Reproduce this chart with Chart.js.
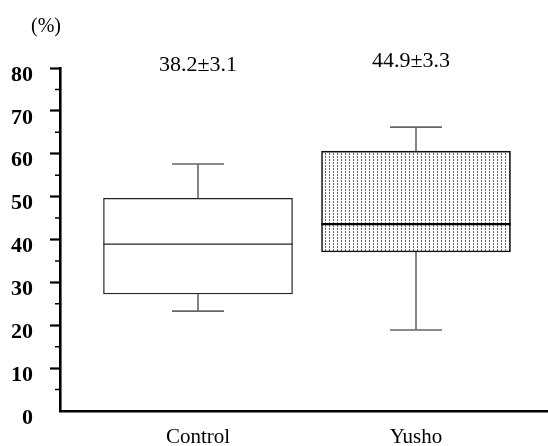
<!DOCTYPE html>
<html><head><meta charset="utf-8">
<script src="https://cdn.jsdelivr.net/npm/chart.js@4.4.0/dist/chart.umd.min.js"></script>
<style>html,body{margin:0;padding:0;background:#fff;}#wrap{width:548px;height:446px;}</style>
</head><body><div id="wrap"><canvas id="c" width="548" height="446"></canvas></div>
<script>
// ---- data ----
const categories = ['Control', 'Yusho'];
const whiskerLow = [23.3, 18.9];
const quartile1 = [27.3, 37.1];
const medians = [38.9, 43.6];
const quartile3 = [49.6, 60.6];
const whiskerHigh = [57.6, 66.2];
const meanLabels = ['38.2\u00b13.1', '44.9\u00b13.3'];
const majorTickValues = [0, 10, 20, 30, 40, 50, 60, 70, 80];
const minorTickValues = [5, 15, 25, 35, 45, 55, 65, 75];
const unitLabel = '(%)';

// ---- stipple pattern for Yusho box ----
function makePattern() {
  const p = document.createElement('canvas');
  p.width = 4; p.height = 3;
  const g = p.getContext('2d');
  g.fillStyle = '#fff'; g.fillRect(0, 0, 4, 3);
  g.fillStyle = '#6a6a6a'; g.fillRect(1, 0, 1, 2);
  return document.getElementById('c').getContext('2d').createPattern(p, 'repeat');
}

const SERIF = '"Liberation Serif", "Times New Roman", serif';

const boxPlugin = {
  id: 'boxExtras',
  afterDatasetsDraw(chart) {
    const ctx = chart.ctx;
    const xs = chart.scales.x, ys = chart.scales.y;
    const meta = chart.getDatasetMeta(0);
    const area = chart.chartArea;
    ctx.save();
    // whiskers and caps
    categories.forEach((c, i) => {
      const cx = xs.getPixelForValue(i);
      ctx.strokeStyle = '#666';
      ctx.lineWidth = 1.6;
      ctx.beginPath();
      ctx.moveTo(cx, ys.getPixelForValue(whiskerHigh[i]));
      ctx.lineTo(cx, ys.getPixelForValue(quartile3[i]));
      ctx.moveTo(cx, ys.getPixelForValue(quartile1[i]));
      ctx.lineTo(cx, ys.getPixelForValue(whiskerLow[i]));
      const half = 26;
      ctx.moveTo(cx - half, ys.getPixelForValue(whiskerHigh[i]));
      ctx.lineTo(cx + half, ys.getPixelForValue(whiskerHigh[i]));
      ctx.moveTo(cx - half, ys.getPixelForValue(whiskerLow[i]));
      ctx.lineTo(cx + half, ys.getPixelForValue(whiskerLow[i]));
      ctx.stroke();
      // median
      const el = meta.data[i];
      ctx.strokeStyle = i === 0 ? '#222' : '#000';
      ctx.lineWidth = i === 0 ? 1.3 : 2.3;
      ctx.beginPath();
      const my = ys.getPixelForValue(medians[i]);
      ctx.moveTo(el.x - el.width / 2, my);
      ctx.lineTo(el.x + el.width / 2, my);
      ctx.stroke();
    });
    // minor ticks on y axis
    ctx.strokeStyle = '#000';
    ctx.lineWidth = 1.6;
    ctx.beginPath();
    minorTickValues.forEach(v => {
      const y = ys.getPixelForValue(v);
      ctx.moveTo(area.left - 5, y);
      ctx.lineTo(area.left, y);
    });
    ctx.stroke();
    // mean ± SE labels
    ctx.fillStyle = '#000';
    ctx.font = '22px ' + SERIF;
    ctx.textAlign = 'center';
    ctx.textBaseline = 'alphabetic';
    const dy = [3, -1];
    const dx = [0, -5];
    meanLabels.forEach((t, i) => {
      ctx.fillText(t, xs.getPixelForValue(i) + dx[i], area.top + dy[i]);
    });
    // unit label
    ctx.font = '20px ' + SERIF;
    ctx.fillText(unitLabel, area.left - 14, area.top - 36);
    ctx.restore();
  }
};

new Chart(document.getElementById('c'), {
  type: 'bar',
  data: {
    datasets: [{
      data: categories.map((c, i) => ({ x: i, y: [quartile1[i], quartile3[i]] })),
      backgroundColor: ['#ffffff', makePattern()],
      borderColor: ['#222', '#111'],
      borderWidth: [1.3, 1.6],
      borderSkipped: false,
      barThickness: 189
    }]
  },
  options: {
    responsive: false,
    animation: false,
    layout: { padding: { top: 68, left: 0, right: 0, bottom: 0 } },
    plugins: { legend: { display: false }, tooltip: { enabled: false } },
    scales: {
      x: {
        type: 'linear',
        offset: false,
        min: -0.633,
        max: 1.6055,
        afterBuildTicks: (axis) => { axis.ticks = categories.map((c, i) => ({ value: i })); },
        afterFit: (axis) => { axis.height = 35; },
        ticks: {
          callback: (v) => categories[v] !== undefined ? categories[v] : '',
          color: '#000',
          font: { family: SERIF, size: 21 },
          padding: 14,
          maxRotation: 0,
          autoSkip: false
        },
        grid: { display: false, drawTicks: false },
        border: { display: true, color: '#000', width: 2.6 }
      },
      y: {
        min: 0,
        max: 80,
        afterBuildTicks: (axis) => { axis.ticks = majorTickValues.map(v => ({ value: v })); },
        afterFit: (axis) => { axis.width = 60; },
        ticks: {
          color: '#000',
          font: { family: SERIF, size: 22, weight: 'bold' },
          padding: 17,
          labelOffset: 7
        },
        grid: {
          drawOnChartArea: false,
          drawTicks: true,
          tickLength: 10,
          tickWidth: 2.2,
          tickColor: (ctx) => (ctx.tick && ctx.tick.value === 0) ? 'rgba(0,0,0,0)' : '#000'
        },
        border: { display: true, color: '#000', width: 2.6 }
      }
    }
  },
  plugins: [boxPlugin]
});
</script>
</body></html>
